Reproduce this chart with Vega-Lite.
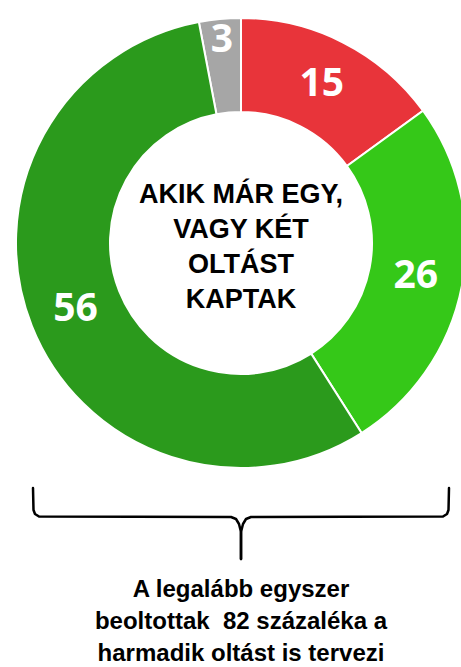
{
  "$schema": "https://vega.github.io/schema/vega-lite/v6.json",
  "padding": {"left": 12, "top": 0, "right": 0, "bottom": 0},
  "spacing": 0,
  "config": {"view": {"stroke": null}},
  "datasets": {
    "shares": [
      {"group": "bizonytalan", "value": 3, "rank": 1},
      {"group": "nem tervezi", "value": 15, "rank": 2},
      {"group": "valószínűleg tervezi", "value": 26, "rank": 3},
      {"group": "biztosan tervezi", "value": 56, "rank": 4}
    ],
    "brace": [
      {"side": "bal", "step": 1, "bx": 18, "by": 2},
      {"side": "bal", "step": 2, "bx": 18.5, "by": 24},
      {"side": "bal", "step": 3, "bx": 20, "by": 28},
      {"side": "bal", "step": 4, "bx": 24, "by": 30.5},
      {"side": "bal", "step": 5, "bx": 216, "by": 31},
      {"side": "bal", "step": 6, "bx": 221, "by": 33},
      {"side": "bal", "step": 7, "bx": 224, "by": 38},
      {"side": "bal", "step": 8, "bx": 226, "by": 46},
      {"side": "bal", "step": 9, "bx": 226, "by": 73},
      {"side": "jobb", "step": 1, "bx": 434, "by": 2},
      {"side": "jobb", "step": 2, "bx": 433.5, "by": 24},
      {"side": "jobb", "step": 3, "bx": 432, "by": 28},
      {"side": "jobb", "step": 4, "bx": 428, "by": 30.5},
      {"side": "jobb", "step": 5, "bx": 236, "by": 31},
      {"side": "jobb", "step": 6, "bx": 231, "by": 33},
      {"side": "jobb", "step": 7, "bx": 228, "by": 38},
      {"side": "jobb", "step": 8, "bx": 226, "by": 46},
      {"side": "jobb", "step": 9, "bx": 226, "by": 73}
    ]
  },
  "vconcat": [
    {
      "width": 452,
      "height": 486,
      "data": {"name": "shares"},
      "encoding": {
        "theta": {"field": "value", "type": "quantitative", "stack": true,
          "scale": {"range": [-0.188496, 6.094690]}},
        "order": {"field": "rank", "type": "ordinal"}
      },
      "layer": [
        {
          "mark": {"type": "arc", "outerRadius": 225, "innerRadius": 131, "stroke": "white", "strokeWidth": 2},
          "encoding": {
            "color": {"field": "group", "type": "nominal", "legend": null,
              "scale": {"domain": ["bizonytalan", "nem tervezi", "valószínűleg tervezi", "biztosan tervezi"],
                "range": ["#a6a6a6", "#e8343a", "#35c818", "#2b9a1c"]}}
          }
        },
        {
          "mark": {"type": "text", "radius": 178, "font": "Open Sans", "fontWeight": "bold", "fontSize": 39, "color": "white", "baseline": "middle", "align": "center"},
          "encoding": {
            "text": {"condition": {"test": "datum.value < 5", "value": ""}, "field": "value", "type": "quantitative"}
          }
        },
        {
          "mark": {"type": "text", "radius": 204, "font": "Open Sans", "fontWeight": "bold", "fontSize": 39, "color": "white", "baseline": "middle", "align": "center"},
          "encoding": {
            "text": {"condition": {"test": "datum.value >= 5", "value": ""}, "field": "value", "type": "quantitative"}
          }
        },
        {
          "data": {"values": [{"label": "AKIK MÁR EGY,|VAGY KÉT|OLTÁST|KAPTAK"}]},
          "mark": {"type": "text", "font": "Liberation Sans", "fontWeight": "bold", "fontSize": 27, "lineHeight": 35, "lineBreak": "|", "color": "black", "baseline": "middle", "align": "center", "dy": -48},
          "encoding": {
            "text": {"field": "label", "type": "nominal"},
            "theta": null,
            "order": null
          }
        }
      ]
    },
    {
      "width": 452,
      "height": 181,
      "layer": [
        {
          "data": {"name": "brace"},
          "mark": {"type": "line", "color": "black", "strokeWidth": 2.5, "strokeJoin": "round", "strokeCap": "round"},
          "encoding": {
            "x": {"field": "bx", "type": "quantitative", "axis": null, "scale": {"domain": [0, 452], "nice": false, "zero": false}},
            "y": {"field": "by", "type": "quantitative", "axis": null, "scale": {"domain": [0, 181], "nice": false, "reverse": true}},
            "detail": {"field": "side", "type": "nominal"},
            "order": {"field": "step", "type": "quantitative"}
          }
        },
        {
          "data": {"values": [{"label": "A legalább egyszer|beoltottak\u00a0 82 százaléka a|harmadik oltást is tervezi"}]},
          "mark": {"type": "text", "font": "Liberation Sans", "fontWeight": "bold", "fontSize": 24, "lineHeight": 32, "lineBreak": "|", "color": "black", "baseline": "middle", "align": "center"},
          "encoding": {
            "text": {"field": "label", "type": "nominal"},
            "x": {"datum": 226, "type": "quantitative"},
            "y": {"datum": 104, "type": "quantitative"}
          }
        }
      ]
    }
  ]
}
